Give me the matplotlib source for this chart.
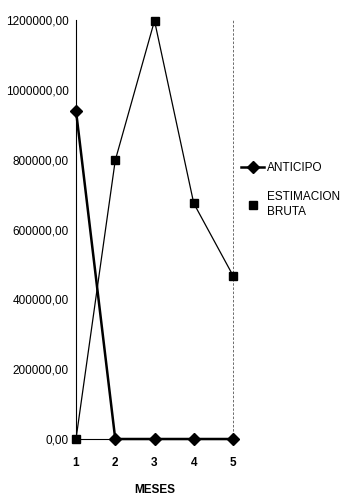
import matplotlib
matplotlib.use("Agg")
import matplotlib.pyplot as plt
from matplotlib.lines import Line2D

plt.rcParams['font.family'] = ['Liberation Sans Narrow', 'Liberation Sans', 'DejaVu Sans']

meses = [1, 2, 3, 4, 5]
anticipo = [940000, 0, 0, 0, 0]
estimacion_bruta = [0, 798000, 1198000, 675000, 468000]
yticks = [0, 200000, 400000, 600000, 800000, 1000000, 1200000]
ytick_labels = ['0,00', '200000,00', '400000,00', '600000,00',
                '800000,00', '1000000,00', '1200000,00']

fig = plt.figure(figsize=(3.42, 4.95), dpi=100)
ax = fig.add_axes([76 / 342, 1 - 439 / 495, 157 / 342, 419 / 495])

ax.plot(meses, estimacion_bruta, color='black', lw=0.9, marker='s',
        markersize=5.5, clip_on=False, zorder=3)
ax.plot(meses, anticipo, color='black', lw=1.8, marker='D',
        markersize=6.5, clip_on=False, zorder=4)

ax.set_xlim(1, 5)
ax.set_ylim(0, 1200000)
ax.set_xticks(meses)
ax.set_xticklabels([str(m) for m in meses], fontsize=8.5, fontweight='bold')
ax.set_yticks(yticks)
ax.set_yticklabels(ytick_labels, fontsize=8.5)
ax.tick_params(axis='y', length=0, pad=5)
ax.tick_params(axis='x', length=0, pad=13)

ax.spines['top'].set_visible(False)
ax.spines['left'].set_linewidth(0.8)
ax.spines['bottom'].set_linewidth(0.8)
ax.spines['right'].set_linestyle((0, (2, 3)))
ax.spines['right'].set_linewidth(0.6)
ax.spines['right'].set_color('#555555')

ax.set_xlabel('MESES', fontsize=8.5, fontweight='bold', labelpad=11)

handles = [
    Line2D([], [], color='black', lw=1.8, marker='D', markersize=6.5),
    Line2D([], [], color='black', lw=0, marker='s', markersize=5.5),
]
leg = fig.legend(handles, ['ANTICIPO', 'ESTIMACION\nBRUTA'], loc='upper left',
                 bbox_to_anchor=(236 / 342, 1 - 157 / 495), frameon=False,
                 fontsize=8.5, handlelength=2.0, handletextpad=0.25,
                 labelspacing=1.5, borderaxespad=0)
for t in leg.get_texts():
    t.set_linespacing(1.3)

fig.savefig('out.png', dpi=100)
